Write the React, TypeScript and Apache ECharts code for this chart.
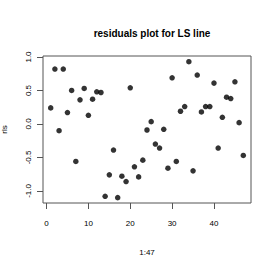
import React, { useEffect, useRef } from "react";
import * as echarts from "echarts";

const indices: number[] = Array.from({ length: 47 }, (_, i) => i + 1);
const residuals: number[] = [
  0.24, 0.82, -0.1, 0.82, 0.17, 0.5, -0.56, 0.36, 0.53, 0.13,
  0.37, 0.48, 0.47, -1.08, -0.76, -0.39, -1.1, -0.78, -0.86, 0.54,
  -0.64, -0.79, -0.54, -0.09, 0.035, -0.3, -0.36, -0.08, -0.66, 0.69,
  -0.56, 0.19, 0.26, 0.93, -0.7, 0.73, 0.18, 0.26, 0.26, 0.61,
  -0.36, 0.1, 0.4, 0.38, 0.63, 0.02, -0.47,
];
const xTicks: number[] = [0, 10, 20, 30, 40];
const yTicks: number[] = [-1.0, -0.5, 0.0, 0.5, 1.0];
const titleText = "residuals plot for LS line";
const xName = "1:47";
const yName = "rls";

export default function App() {
  const ref = useRef<HTMLDivElement>(null);
  useEffect(() => {
    if (!ref.current) return;
    const chart = echarts.init(ref.current, null, { renderer: "svg" });
    const font = "'Liberation Sans', Arial, sans-serif";
    chart.setOption({
      animation: false,
      backgroundColor: "#fff",
      title: {
        text: titleText,
        left: 147,
        top: 23,
        textAlign: "center",
        textStyle: { fontFamily: font, fontSize: 10, fontWeight: "bold", color: "#000" },
      },
      grid: {
        left: 43,
        top: 56,
        right: 22,
        bottom: 70,
        containLabel: false,
        outerBoundsMode: "none",
        show: true,
        borderColor: "#555",
        borderWidth: 1,
        backgroundColor: "transparent",
      },
      xAxis: {
        type: "value",
        min: -0.84,
        max: 48.84,
        name: xName,
        nameLocation: "middle",
        nameGap: 45,
        nameTextStyle: { fontFamily: font, fontSize: 8, color: "#000" },
        splitLine: { show: false },
        axisLine: { show: false, onZero: false },
        axisTick: { show: true, length: 6, inside: false, customValues: xTicks, lineStyle: { color: "#555" } },
        axisLabel: {
          customValues: xTicks,
          margin: 16,
          fontFamily: font,
          fontSize: 8,
          color: "#000",
          formatter: (v: number) => String(v),
        },
      },
      yAxis: {
        type: "value",
        min: -1.18,
        max: 1.015,
        name: yName,
        nameLocation: "middle",
        nameRotate: 90,
        nameGap: 35,
        nameTextStyle: { fontFamily: font, fontSize: 8, color: "#000" },
        splitLine: { show: false },
        axisLine: { show: false, onZero: false },
        axisTick: { show: true, length: 6, inside: false, customValues: yTicks, lineStyle: { color: "#555" } },
        axisLabel: {
          customValues: yTicks,
          rotate: 90,
          margin: 11,
          fontFamily: font,
          fontSize: 8,
          color: "#000",
          formatter: (v: number) => v.toFixed(1),
        },
      },
      series: [
        {
          type: "scatter",
          symbol: "circle",
          symbolSize: 5.5,
          itemStyle: { color: "#000" },
          data: indices.map((x, i) => [x, residuals[i]]),
        },
      ],
    });
    return () => chart.dispose();
  }, []);
  return <div ref={ref} style={{ width: 273, height: 273, position: "absolute", left: 0, top: 0 }} />;
}
